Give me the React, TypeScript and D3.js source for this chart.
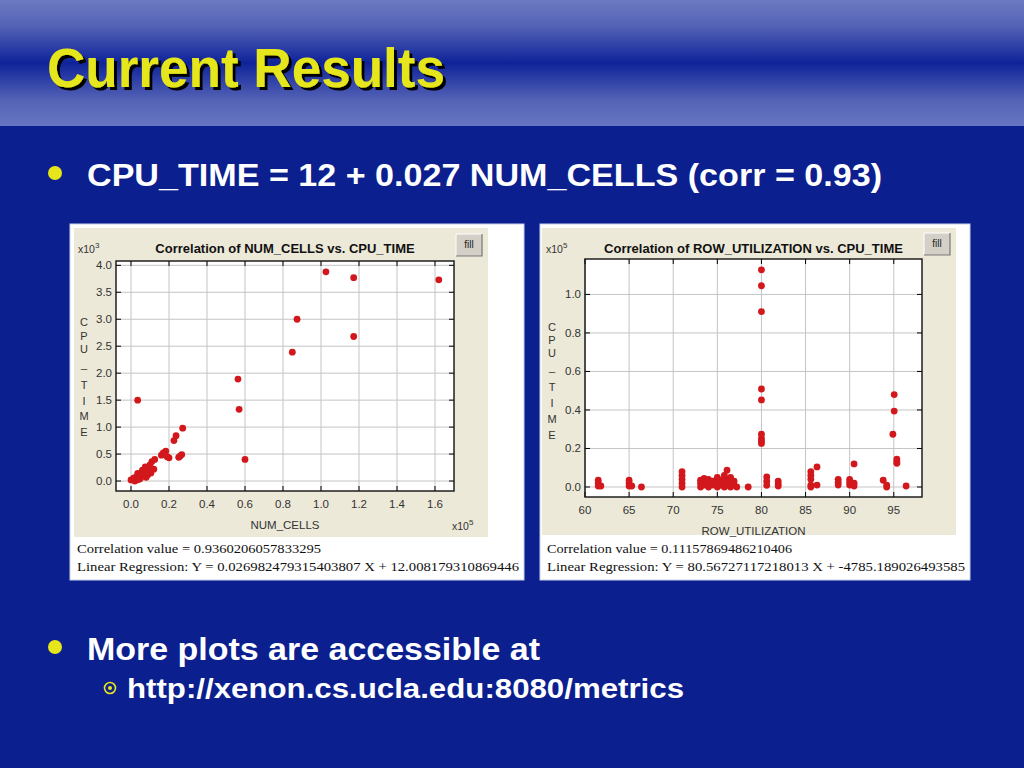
import React from "react";
import * as d3 from "d3";

// ---------- data ----------
// Left chart: NUM_CELLS (x10^5) vs CPU_TIME (x10^3)
const cellsX = [
  0.0, 0.01, 0.02, 0.03, 0.04, 0.05, 0.06, 0.07, 0.08, 0.09, 0.1, 0.11, 0.125,
  0.03, 0.05, 0.07, 0.09, 0.06, 0.04, 0.08, 0.1, 0.12, 0.02, 0.015, 0.035,
  0.055, 0.075, 0.105, 0.045, 0.065, 0.085, 0.16, 0.17, 0.183, 0.2, 0.19,
  0.226, 0.237, 0.272, 0.251, 0.267, 0.258, 0.035, 0.563, 0.569, 0.6, 0.849,
  0.874, 1.026, 1.172, 1.172, 1.62,
];
const cellsY = [
  0.02, 0.03, 0.05, 0.08, 0.1, 0.13, 0.15, 0.18, 0.2, 0.25, 0.3, 0.36, 0.4,
  0.02, 0.05, 0.1, 0.12, 0.2, 0.03, 0.07, 0.18, 0.22, 0.0, 0.06, 0.14, 0.09,
  0.26, 0.15, 0.04, 0.11, 0.16, 0.48, 0.52, 0.556, 0.43, 0.45, 0.75, 0.84,
  0.98, 0.44, 0.49, 0.46, 1.5, 1.89, 1.33, 0.4, 2.39, 3.0, 3.88, 3.77, 2.68,
  3.73,
];
const cellsXTicks = [0, 0.2, 0.4, 0.6, 0.8, 1.0, 1.2, 1.4, 1.6];
const cellsYTicks = [0, 0.5, 1.0, 1.5, 2.0, 2.5, 3.0, 3.5, 4.0];

// Right chart: ROW_UTILIZATION vs CPU_TIME (x10^5)
const rowX = [
  61.5, 61.5, 61.5, 61.8, 65.0, 65.0, 65.0, 65.3, 66.4,
  71.0, 71.0, 71.0, 71.0, 71.0,
  73.1, 73.1, 73.1, 73.5, 73.5, 73.5, 74.0, 74.0, 74.0, 74.5, 74.5,
  75.0, 75.0, 75.0, 75.4, 75.4, 75.8, 75.8, 75.8, 76.1, 76.1, 76.1,
  76.5, 76.5, 76.5, 76.9, 76.9, 77.2, 78.5,
  80.0, 80.0, 80.0, 80.0, 80.0, 80.0, 80.0, 80.0, 80.0,
  80.6, 80.6, 80.6, 81.9, 81.9, 81.9,
  85.6, 85.6, 85.6, 85.6, 85.6, 86.3, 86.3,
  88.7, 88.7, 88.7, 90.0, 90.0, 90.0, 90.5, 90.5, 90.5,
  93.8, 94.2, 94.2, 95.05, 95.05, 94.9, 95.35, 95.35, 95.35, 96.4,
];
const rowY = [
  0.035, 0.02, 0.005, 0.005, 0.035, 0.02, 0.005, 0.005, 0.0,
  0.08, 0.06, 0.04, 0.02, 0.0,
  0.0, 0.02, 0.035, 0.01, 0.03, 0.045, 0.0, 0.02, 0.04, 0.01, 0.03,
  0.0, 0.02, 0.05, 0.01, 0.035, 0.0, 0.03, 0.06, 0.087, 0.04, 0.01,
  0.0, 0.03, 0.05, 0.01, 0.03, 0.0, 0.0,
  1.128, 1.045, 0.911, 0.509, 0.452, 0.274, 0.252, 0.238, 0.226,
  0.052, 0.03, 0.009, 0.03, 0.015, 0.005,
  0.08, 0.06, 0.04, 0.01, 0.0, 0.104, 0.01,
  0.04, 0.025, 0.01, 0.04, 0.025, 0.01, 0.12, 0.02, 0.005,
  0.035, 0.01, 0.0, 0.48, 0.394, 0.274, 0.145, 0.133, 0.123, 0.005,
];
const rowXTicks = [60, 65, 70, 75, 80, 85, 90, 95];
const rowYTicks = [0, 0.2, 0.4, 0.6, 0.8, 1.0];

const yLabelChars = ["C", "P", "U", "_", "T", "I", "M", "E"];

// ---------- chart panel ----------
type PanelProps = {
  box: [number, number, number, number];
  beige: [number, number, number, number];
  plot: [number, number, number, number]; // x0,y0,x1,y1
  xDomain: [number, number];
  yDomain: [number, number];
  xTicks: number[];
  yTicks: number[];
  xFmt: (v: number) => string;
  yFmt: (v: number) => string;
  xs: number[];
  ys: number[];
  title: string;
  xLabel: string;
  yExp: string;
  xExp?: string;
  yLabelY: number[];
  yLabelX: number;
  corr: string;
  reg: string;
  fill: [number, number];
  textLen: [number, number];
};

function Panel(p: PanelProps) {
  const [px0, py0, px1, py1] = p.plot;
  const x = d3.scaleLinear().domain(p.xDomain).range([px0, px1]);
  const y = d3.scaleLinear().domain(p.yDomain).range([py1, py0]);
  const tickFont = { fontFamily: "Liberation Sans, Arial, sans-serif", fontSize: 11.5, fill: "#333" };
  const cx = (px0 + px1) / 2;
  return (
    <g>
      <rect x={p.box[0]} y={p.box[1]} width={p.box[2]} height={p.box[3]} fill="#fff" stroke="#c8d0e8" strokeWidth={1} />
      <rect x={p.beige[0]} y={p.beige[1]} width={p.beige[2]} height={p.beige[3]} fill="#ece9d8" />
      <rect x={px0} y={py0} width={px1 - px0} height={py1 - py0} fill="#fff" />
      {p.xTicks.map((t) => (
        <line key={"gx" + t} x1={x(t)} x2={x(t)} y1={py0} y2={py1} stroke="#c4c4c4" strokeWidth={1} />
      ))}
      {p.yTicks.map((t) => (
        <line key={"gy" + t} x1={px0} x2={px1} y1={y(t)} y2={y(t)} stroke="#c4c4c4" strokeWidth={1} />
      ))}
      {p.xTicks.map((t) => (
        <g key={"tx" + t}>
          <line x1={x(t)} x2={x(t)} y1={py1} y2={py1 - 5} stroke="#000" />
          <line x1={x(t)} x2={x(t)} y1={py0} y2={py0 + 5} stroke="#000" />
          <text x={x(t)} y={py1 + 17} textAnchor="middle" {...tickFont}>{p.xFmt(t)}</text>
        </g>
      ))}
      {p.yTicks.map((t) => (
        <g key={"ty" + t}>
          <line x1={px0} x2={px0 + 5} y1={y(t)} y2={y(t)} stroke="#000" />
          <line x1={px1} x2={px1 - 5} y1={y(t)} y2={y(t)} stroke="#000" />
          <text x={px0 - 4} y={y(t) + 4} textAnchor="end" {...tickFont}>{p.yFmt(t)}</text>
        </g>
      ))}
      <rect x={px0} y={py0} width={px1 - px0} height={py1 - py0} fill="none" stroke="#111" strokeWidth={1.4} />
      {p.xs.map((v, i) => (
        <circle key={"d" + i} cx={x(v)} cy={y(p.ys[i])} r={3.4} fill="#d2181c" />
      ))}
      <text x={cx} y={253} textAnchor="middle" fontFamily="Liberation Sans, Arial, sans-serif" fontWeight="bold" fontSize={13} fill="#111">
        {p.title}
      </text>
      <text x={p.beige[0] + 4} y={253} fontFamily="Liberation Sans, Arial, sans-serif" fontSize={10.5} fill="#333">
        x10<tspan dy={-5} fontSize={8}>{p.yExp}</tspan>
      </text>
      {yLabelChars.map((c, i) => (
        <text key={"yl" + i} x={p.yLabelX} y={p.yLabelY[i]} textAnchor="middle" fontFamily="Liberation Sans, Arial, sans-serif" fontSize={11} fill="#333">
          {c}
        </text>
      ))}
      <text x={cx} y={py1 + 38} textAnchor="middle" fontFamily="Liberation Sans, Arial, sans-serif" fontSize={11.5} fill="#333">
        {p.xLabel}
      </text>
      {p.xExp && (
        <text x={px1 - 2} y={py1 + 39} fontFamily="Liberation Sans, Arial, sans-serif" fontSize={10.5} fill="#333">
          x10<tspan dy={-5} fontSize={8}>{p.xExp}</tspan>
        </text>
      )}
      {/* fill button */}
      <rect x={p.fill[0]} y={p.fill[1]} width={26} height={22} fill="#d4d0c8" />
      <path d={`M${p.fill[0]},${p.fill[1] + 22} V${p.fill[1]} H${p.fill[0] + 26}`} fill="none" stroke="#fff" strokeWidth={1} />
      <path d={`M${p.fill[0]},${p.fill[1] + 22} H${p.fill[0] + 26} V${p.fill[1]}`} fill="none" stroke="#777" strokeWidth={1.2} />
      <text x={p.fill[0] + 13} y={p.fill[1] + 14} textAnchor="middle" fontFamily="Liberation Sans, Arial, sans-serif" fontSize={10} fill="#222">
        fill
      </text>
      <text x={p.box[0] + 7} y={p.box[1] + 329} fontFamily="Liberation Serif, Times New Roman, serif" fontSize={13.5} fill="#111" textLength={p.textLen[0]} lengthAdjust="spacingAndGlyphs">
        {p.corr}
      </text>
      <text x={p.box[0] + 7} y={p.box[1] + 347} fontFamily="Liberation Serif, Times New Roman, serif" fontSize={13.5} fill="#111" textLength={p.textLen[1]} lengthAdjust="spacingAndGlyphs">
        {p.reg}
      </text>
    </g>
  );
}

export default function App() {
  const sans = "Liberation Sans, Arial, Helvetica, sans-serif";
  return (
    <svg width={1024} height={768} style={{ position: "absolute", left: 0, top: 0, display: "block" }}>
      <defs>
        <linearGradient id="hdr" x1="0" y1="0" x2="0" y2="1">
          <stop offset="0" stopColor="#6b79c2" />
          <stop offset="0.2" stopColor="#5563b6" />
          <stop offset="0.5" stopColor="#0f239a" />
          <stop offset="0.8" stopColor="#5564b6" />
          <stop offset="1" stopColor="#6676c2" />
        </linearGradient>
        <filter id="shadow" x="-5%" y="-10%" width="115%" height="130%">
          <feOffset in="SourceAlpha" dx={3} dy={3} result="off" />
          <feFlood floodColor="#000" result="blk" />
          <feComposite in="blk" in2="off" operator="in" result="sh" />
          <feMerge>
            <feMergeNode in="sh" />
            <feMergeNode in="SourceGraphic" />
          </feMerge>
        </filter>
      </defs>
      <rect x={0} y={0} width={1024} height={768} fill="#0b1f8f" />
      <rect x={0} y={0} width={1024} height={126} fill="url(#hdr)" />

      {/* title */}
      <text x={47} y={87} fontFamily={sans} fontWeight="bold" fontSize={55} fill="#e6e61a" textLength={398} lengthAdjust="spacingAndGlyphs" filter="url(#shadow)">
        Current Results
      </text>

      {/* bullet 1 */}
      <circle cx={55} cy={173} r={7} fill="#e6e61a" />
      <text x={87} y={186} fontFamily={sans} fontWeight="bold" fontSize={32} fill="#fff" textLength={795} lengthAdjust="spacingAndGlyphs">
        CPU_TIME = 12 + 0.027 NUM_CELLS (corr = 0.93)
      </text>

      <Panel
        box={[70, 224, 454, 356]}
        beige={[74, 228, 414, 309]}
        plot={[116, 261, 454, 491]}
        xDomain={[-0.079, 1.7]}
        yDomain={[-0.185, 4.08]}
        xTicks={cellsXTicks}
        yTicks={cellsYTicks}
        xFmt={(v) => v.toFixed(1)}
        yFmt={(v) => v.toFixed(1)}
        xs={cellsX}
        ys={cellsY}
        title="Correlation of NUM_CELLS vs. CPU_TIME"
        xLabel="NUM_CELLS"
        yExp="3"
        xExp="5"
        yLabelX={84}
        yLabelY={[326, 340, 353, 368, 389, 405, 420, 436]}
        corr="Correlation value = 0.9360206057833295"
        reg="Linear Regression: Y = 0.026982479315403807 X + 12.008179310869446"
        fill={[456, 234]}
        textLen={[244, 442]}
      />
      <Panel
        box={[540, 224, 430, 356]}
        beige={[542, 228, 414, 307]}
        plot={[585, 259, 922, 497]}
        xDomain={[60, 98.2]}
        yDomain={[-0.052, 1.184]}
        xTicks={rowXTicks}
        yTicks={rowYTicks}
        xFmt={(v) => String(v)}
        yFmt={(v) => v.toFixed(1)}
        xs={rowX}
        ys={rowY}
        title="Correlation of ROW_UTILIZATION vs. CPU_TIME"
        xLabel="ROW_UTILIZATION"
        yExp="5"
        yLabelX={552}
        yLabelY={[331, 344, 357, 371, 391, 407, 423, 439]}
        corr="Correlation value = 0.11157869486210406"
        reg="Linear Regression: Y = 80.56727117218013 X + -4785.189026493585"
        fill={[924, 233]}
        textLen={[245, 418]}
      />

      {/* bullet 2 */}
      <circle cx={55} cy={647} r={7} fill="#e6e61a" />
      <text x={87} y={660} fontFamily={sans} fontWeight="bold" fontSize={32} fill="#fff" textLength={453} lengthAdjust="spacingAndGlyphs">
        More plots are accessible at
      </text>
      <circle cx={110} cy={688} r={5.5} fill="none" stroke="#e6e61a" strokeWidth={1.6} />
      <circle cx={110} cy={688} r={2} fill="#e6e61a" />
      <text x={127} y={698} fontFamily={sans} fontWeight="bold" fontSize={27} fill="#fff" textLength={557} lengthAdjust="spacingAndGlyphs">
        http://xenon.cs.ucla.edu:8080/metrics
      </text>
    </svg>
  );
}
